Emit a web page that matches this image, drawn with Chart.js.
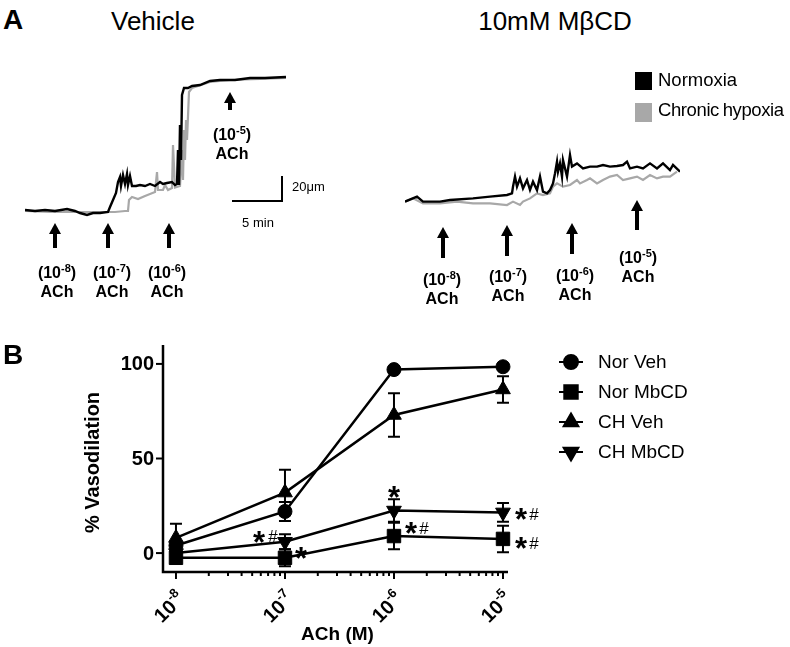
<!DOCTYPE html>
<html>
<head>
<meta charset="utf-8">
<script src="https://cdn.jsdelivr.net/npm/chart.js@4.4.1/dist/chart.umd.min.js"></script>
<style>
  body { margin: 0; background: #fff; }
  #page { position: relative; width: 790px; height: 647px; overflow: hidden; font-family: "Liberation Sans", Arial, sans-serif; color: #000; }
  canvas { position: absolute; }
  .txt { position: absolute; white-space: nowrap; line-height: 1; }
  .drug { position: absolute; transform: translateX(-50%); font-weight: bold; font-size: 16px; line-height: 19px; text-align: center; white-space: nowrap; }
  .drug sup { font-size: 11px; line-height: 0; vertical-align: 6px; }
  .swatch { position: absolute; width: 17px; height: 18px; }
</style>
</head>
<body>
<div id="page">
  <canvas id="traceVeh" width="350" height="270" style="left:0;top:40px"></canvas>
  <canvas id="traceMbcd" width="320" height="190" style="left:380px;top:120px"></canvas>
  <canvas id="doseChart" width="790" height="317" style="left:0;top:330px"></canvas>

  <div class="txt" style="left:3px;top:6px;font-size:28px;font-weight:bold">A</div>
  <div class="txt" style="left:111px;top:8px;font-size:26px">Vehicle</div>
  <div class="txt" style="left:555px;top:8px;font-size:26px;transform:translateX(-50%)">10mM MβCD</div>
  <div class="txt" style="left:3px;top:341px;font-size:28px;font-weight:bold">B</div>

  <div class="swatch" style="left:635px;top:72px;background:#000"></div>
  <div class="txt" style="left:658px;top:71px;font-size:18.5px">Normoxia</div>
  <div class="swatch" style="left:635px;top:103px;height:19px;background:#a8a8a8"></div>
  <div class="txt" style="left:658px;top:101px;font-size:18.5px;word-spacing:-1px;letter-spacing:-0.4px">Chronic hypoxia</div>

  <div class="txt" style="left:292px;top:180px;font-size:13px">20μm</div>
  <div class="txt" style="left:258px;top:216px;font-size:13px;transform:translateX(-50%)">5 min</div>
</div>

<script>
// Panel A traces: [time (min), diameter change (um)]
const vehNormoxia = [[0,8],[1,7.2],[2,8],[3,7.2],[4.2,8.8],[5,7.2],[5.5,5.6],[6.2,4],[6.8,5.6],[7.5,5.6],[8.3,6.4],[8.5,10.4],[8.8,16],[9.1,21.6],[9.3,30.4],[9.5,34.4],[9.6,27.2],[9.8,36],[10,28.8],[10.2,36.8],[10.3,28],[10.5,35.2],[10.7,27.2],[11.1,27.2],[11.5,28],[12,27.2],[12.5,28.8],[13,27.2],[13.5,30.4],[13.8,28.8],[14.2,29.6],[14.7,30.4],[15,28],[15.2,28.8],[15.3,56],[15.4,28],[15.5,76],[15.6,48],[15.7,100],[15.9,105.6],[16.3,105.6],[16.7,107.2],[17.5,108],[18.5,111.2],[19.5,112],[21,112],[22.5,113.6],[24,113.6],[26.1,114.4]];
const vehHypoxia = [[0,7.2],[2.5,6.4],[5,6.4],[7.5,6.4],[9,6.4],[10,7.2],[10.3,7.2],[10.4,16],[10.7,18.4],[11.3,16.8],[12,19.2],[12.5,20.8],[13,22.4],[13.2,38.4],[13.3,24],[13.8,24],[14,28],[14.3,24],[14.7,25.6],[14.8,60],[15,26],[15.5,27.2],[15.7,56],[15.8,32],[15.9,72],[16,48],[16.1,80],[16.2,64],[16.4,102.4],[16.7,105.6],[17.3,107.2],[18.5,110.4],[20.5,112],[23.5,112.8],[26.1,113.6]];
const mbcdNormoxia = [[0,14.7],[1.2,18.7],[1.8,14.7],[3.5,14.7],[4.5,16],[6.8,17.3],[8.5,18.7],[10.2,20],[10.7,21.3],[10.8,26.7],[11,34.7],[11.2,26.7],[11.5,33.3],[11.8,25.3],[12.2,32],[12.5,24],[12.8,30.7],[13.2,24],[13.5,34.7],[13.8,22.7],[14.2,21.3],[14.5,24],[14.8,29.3],[15,37.3],[15.2,46.7],[15.3,38.7],[15.5,45.3],[15.7,34.7],[15.8,48],[16.2,34.7],[16.5,52],[16.7,42.7],[17.2,45.3],[17.8,41.3],[18.5,42.7],[19.2,42.7],[19.8,44],[20.5,42.7],[21.2,43.2],[21.8,44],[22.2,46.7],[22.5,41.3],[23.2,42.7],[23.8,41.3],[24.5,45.3],[25.2,41.3],[25.8,45.3],[26.5,40],[26.8,44],[27.5,38.7]];
const mbcdHypoxia = [[0,14.7],[0.8,17.3],[1.8,13.3],[3.5,13.3],[5.2,14.7],[6.8,13.3],[8.5,13.3],[10.2,12],[10.8,14.7],[11.5,12],[11.8,14.7],[12.5,17.3],[13.2,21.3],[13.8,20],[14.5,21.3],[14.8,26.7],[15.2,29.3],[15.8,26.7],[16.5,28],[17.2,32],[17.5,29.3],[18.2,32],[18.5,33.3],[19.2,29.3],[19.8,32],[20.5,34.7],[21.2,36],[21.8,32],[22.5,33.3],[23.2,34.7],[23.8,32],[24.5,36],[25.2,33.3],[25.8,34.7],[26.5,34.7],[27.2,38.7]];
const drugLabels = ['-8', '-7', '-6', '-5'];

// Panel B: % vasodilation vs ACh (M), mean and SEM
const concentrations = [1e-8, 1e-7, 1e-6, 1e-5];
const seriesNames = ['Nor Veh', 'Nor MbCD', 'CH Veh', 'CH MbCD'];
const norVeh = [4, 22, 97, 98.5];
const norVehSem = [1.5, 5, 1.5, 1.5];
const norMbcd = [-2.5, -2.5, 9, 7.5];
const norMbcdSem = [3, 4.5, 7, 7];
const chVeh = [8, 32, 73, 86.5];
const chVehSem = [7.5, 12, 11.5, 7];
const chMbcd = [0, 6, 22.5, 21.5];
const chMbcdSem = [2, 4, 6, 5];
const yTicks = [0, 50, 100];

Chart.defaults.font.family = '"Liberation Sans", Arial, sans-serif';
const page = document.getElementById('page');

// drug addition arrows + labels (page pixels)
const arrowsVeh = [{x: 55, top: 223, bottom: 248, lx: 57, base: 278}, {x: 108, top: 223, bottom: 248, lx: 112, base: 278},
                   {x: 169, top: 223, bottom: 248, lx: 167, base: 278}, {x: 230, top: 92, bottom: 110, lx: 232, base: 140}];
const arrowsMbcd = [{x: 443, top: 227, bottom: 258, lx: 442, base: 285}, {x: 507, top: 225, bottom: 256, lx: 508, base: 282},
                    {x: 572, top: 223, bottom: 254, lx: 575, base: 281}, {x: 637, top: 200, bottom: 230, lx: 638, base: 263}];

function addArrow(a, exp) {
    const head = document.createElement('div');
    head.style.cssText = `position:absolute;left:${a.x - 6}px;top:${a.top}px;width:0;height:0;border-left:6px solid transparent;border-right:6px solid transparent;border-bottom:11px solid #000;`;
    const shaft = document.createElement('div');
    shaft.style.cssText = `position:absolute;left:${a.x - 2}px;top:${a.top + 10}px;width:4px;height:${a.bottom - a.top - 10}px;background:#000;`;
    const lbl = document.createElement('div');
    lbl.className = 'drug';
    lbl.style.left = a.lx + 'px';
    lbl.style.top = (a.base - 15) + 'px';
    lbl.innerHTML = `(10<sup>${exp}</sup>)<br>ACh`;
    page.append(head, shaft, lbl);
}
arrowsVeh.forEach((a, i) => addArrow(a, drugLabels[i]));
arrowsMbcd.forEach((a, i) => addArrow(a, drugLabels[i]));

const scaleBar = {
    id: 'scaleBar',
    afterDraw(chart) {
        if (!chart.options.plugins.scaleBar.show) return;
        const {ctx, scales: {x, y}} = chart;
        const x0 = x.getPixelForValue(20.7), x1 = x.getPixelForValue(25.7);
        const y0 = y.getPixelForValue(15.2), y1 = y.getPixelForValue(35.2);
        ctx.save();
        ctx.strokeStyle = '#000';
        ctx.lineWidth = 2;
        ctx.beginPath();
        ctx.moveTo(x0, y0); ctx.lineTo(x1, y0); ctx.lineTo(x1, y1);
        ctx.stroke();
        ctx.restore();
    }
};

function traceChart(id, norm, hyp, xMax, yMax, pad, bar) {
    return new Chart(document.getElementById(id), {
        type: 'line',
        data: {
            datasets: [
                { data: norm.map(p => ({x: p[0], y: p[1]})), borderColor: '#000', borderWidth: 2.4, pointRadius: 0 },
                { data: hyp.map(p => ({x: p[0], y: p[1]})), borderColor: '#a8a8a8', borderWidth: 2.2, pointRadius: 0 }
            ]
        },
        options: {
            responsive: false,
            animation: false,
            events: [],
            layout: { padding: pad },
            plugins: { legend: { display: false }, tooltip: { enabled: false }, scaleBar: { show: bar } },
            scales: {
                x: { type: 'linear', min: 0, max: xMax, display: false },
                y: { min: 0, max: yMax, display: false }
            }
        },
        plugins: [scaleBar]
    });
}

traceChart('traceVeh', vehNormoxia, vehHypoxia, 26.1, 120, {left: 25, top: 30, right: 64, bottom: 90}, true);
traceChart('traceMbcd', mbcdNormoxia, mbcdHypoxia, 27.5, 72, {left: 25, top: 10, right: 20, bottom: 90}, false);

// Panel B
const markers = [
    {pointStyle: 'circle', rotation: 0, radius: 7},
    {pointStyle: 'rect', rotation: 0, radius: 9.5},
    {pointStyle: 'triangle', rotation: 0, radius: 8.5},
    {pointStyle: 'triangle', rotation: 180, radius: 8.5}
];
const means = [norVeh, norMbcd, chVeh, chMbcd];
const sems = [norVehSem, norMbcdSem, chVehSem, chMbcdSem];

// significance marks: offsets from the data point, in px
const sigMarks = [
    {s: 3, i: 1, star: [-26, -7], hash: [-12, -6]},
    {s: 1, i: 1, star: [16, -7]},
    {s: 3, i: 2, star: [0, -21]},
    {s: 1, i: 2, star: [17, -10], hash: [30, -8]},
    {s: 3, i: 3, star: [18, 0], hash: [31, 2]},
    {s: 1, i: 3, star: [18, 2], hash: [31, 4]}
];

const doseDecor = {
    id: 'doseDecor',
    afterDatasetsDraw(chart) {
        const {ctx, chartArea: a, scales: {x, y}} = chart;
        ctx.save();
        ctx.strokeStyle = '#000';
        ctx.fillStyle = '#000';

        // error bars
        ctx.lineWidth = 2;
        means.forEach((m, s) => {
            m.forEach((v, i) => {
                const px = x.getPixelForValue(concentrations[i]);
                const hi = y.getPixelForValue(v + sems[s][i]);
                const lo = y.getPixelForValue(v - sems[s][i]);
                ctx.beginPath();
                ctx.moveTo(px, hi); ctx.lineTo(px, lo);
                ctx.moveTo(px - 6, hi); ctx.lineTo(px + 6, hi);
                ctx.moveTo(px - 6, lo); ctx.lineTo(px + 6, lo);
                ctx.stroke();
            });
        });

        // axes
        ctx.lineWidth = 2.5;
        ctx.beginPath();
        ctx.moveTo(a.left, a.top); ctx.lineTo(a.left, a.bottom); ctx.lineTo(a.right, a.bottom);
        ctx.stroke();

        ctx.lineWidth = 2;
        ctx.font = 'bold 20px "Liberation Sans", Arial, sans-serif';
        ctx.textAlign = 'right';
        ctx.textBaseline = 'middle';
        yTicks.forEach(v => {
            const py = y.getPixelForValue(v);
            ctx.beginPath(); ctx.moveTo(a.left - 7, py); ctx.lineTo(a.left, py); ctx.stroke();
            ctx.fillText(String(v), a.left - 9, py + 1);
        });

        // x ticks (log decades + minor)
        const minor = [];
        for (let d = -8; d < -5; d++) for (let k = 2; k <= 9; k++) minor.push(k * Math.pow(10, d));
        minor.forEach(v => {
            const px = x.getPixelForValue(v);
            ctx.beginPath(); ctx.moveTo(px, a.bottom); ctx.lineTo(px, a.bottom + 4); ctx.stroke();
        });
        concentrations.forEach((v, i) => {
            const px = x.getPixelForValue(v);
            ctx.beginPath(); ctx.moveTo(px, a.bottom); ctx.lineTo(px, a.bottom + 7); ctx.stroke();

            ctx.save();
            ctx.translate(px + 5, a.bottom + 23);
            ctx.rotate(-Math.PI / 4);
            ctx.textAlign = 'left';
            ctx.textBaseline = 'alphabetic';
            ctx.font = 'bold 13px "Liberation Sans", Arial, sans-serif';
            const wSup = ctx.measureText(drugLabels[i]).width;
            ctx.font = 'bold 20px "Liberation Sans", Arial, sans-serif';
            const wMain = ctx.measureText('10').width;
            const x0 = -(wMain + wSup);
            ctx.fillText('10', x0, 7);
            ctx.font = 'bold 13px "Liberation Sans", Arial, sans-serif';
            ctx.fillText(drugLabels[i], x0 + wMain, -2);
            ctx.restore();
        });

        // axis titles
        ctx.textAlign = 'center';
        ctx.textBaseline = 'alphabetic';
        ctx.font = 'bold 19px "Liberation Sans", Arial, sans-serif';
        ctx.fillText('ACh (M)', (a.left + a.right) / 2 + 2, a.bottom + 68);
        ctx.save();
        ctx.translate(99, (a.top + a.bottom) / 2 + 4);
        ctx.rotate(-Math.PI / 2);
        ctx.font = 'bold 20px "Liberation Sans", Arial, sans-serif';
        ctx.fillText('% Vasodilation', 0, 0);
        ctx.restore();

        // significance marks
        sigMarks.forEach(mk => {
            const px = x.getPixelForValue(concentrations[mk.i]);
            const py = y.getPixelForValue(means[mk.s][mk.i]);
            ctx.font = 'bold 31px "Liberation Sans", Arial, sans-serif';
            ctx.fillText('*', px + mk.star[0], py + mk.star[1] + 18);
            if (mk.hash) {
                ctx.font = '17px "Liberation Sans", Arial, sans-serif';
                ctx.fillText('#', px + mk.hash[0], py + mk.hash[1] + 6);
            }
        });

        // legend
        seriesNames.forEach((name, i) => {
            const ly = 32 + 30 * i;
            ctx.lineWidth = 2;
            ctx.beginPath(); ctx.moveTo(559, ly); ctx.lineTo(583, ly); ctx.stroke();
            Chart.helpers.drawPoint(ctx, {...markers[i], borderWidth: 1}, 571, ly);
            ctx.textAlign = 'left';
            ctx.textBaseline = 'middle';
            ctx.font = '19px "Liberation Sans", Arial, sans-serif';
            ctx.fillText(name, 598, ly + 1);
        });
        ctx.restore();
    }
};

new Chart(document.getElementById('doseChart'), {
    type: 'line',
    data: {
        datasets: means.map((m, s) => ({
            label: seriesNames[s],
            data: m.map((v, i) => ({x: concentrations[i], y: v})),
            borderColor: '#000',
            backgroundColor: '#000',
            borderWidth: 2.5,
            pointStyle: markers[s].pointStyle,
            rotation: markers[s].rotation,
            pointRadius: markers[s].radius,
            pointBorderWidth: 1,
            clip: false
        }))
    },
    options: {
        responsive: false,
        animation: false,
        events: [],
        layout: { padding: {left: 163, top: 15, right: 282, bottom: 75} },
        plugins: { legend: { display: false }, tooltip: { enabled: false } },
        scales: {
            x: { type: 'logarithmic', min: Math.pow(10, -8.119), max: Math.pow(10, -4.954), display: false },
            y: { min: -10, max: 110, display: false }
        }
    },
    plugins: [doseDecor]
});
</script>
</body>
</html>
